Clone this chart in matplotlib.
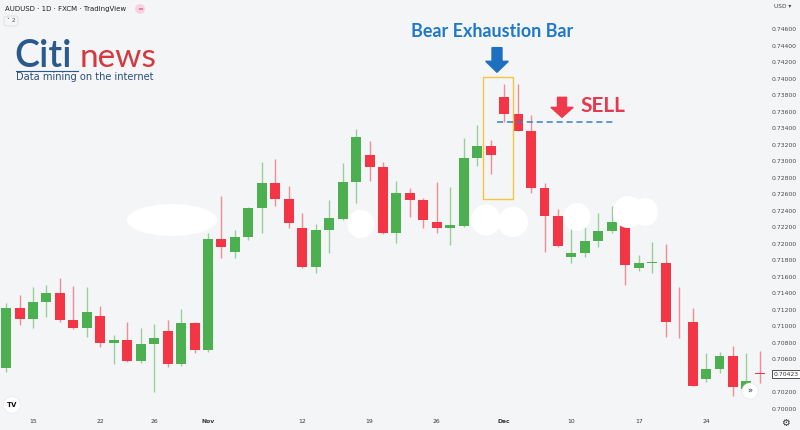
import matplotlib.pyplot as plt
from matplotlib.patches import Ellipse, FancyArrow, Rectangle, FancyBboxPatch

# AUDUSD daily, FXCM, 11 Oct 2018 - 31 Dec 2018
dates = ["Oct 11", "Oct 12", "Oct 15", "Oct 16", "Oct 17", "Oct 18", "Oct 19",
         "Oct 22", "Oct 23", "Oct 24", "Oct 25", "Oct 26", "Oct 29", "Oct 30", "Oct 31",
         "Nov 1", "Nov 2", "Nov 5", "Nov 6", "Nov 7", "Nov 8", "Nov 9",
         "Nov 12", "Nov 13", "Nov 14", "Nov 15", "Nov 16", "Nov 19", "Nov 20", "Nov 21",
         "Nov 22", "Nov 23", "Nov 26", "Nov 27", "Nov 28", "Nov 29", "Nov 30",
         "Dec 3", "Dec 4", "Dec 5", "Dec 6", "Dec 7", "Dec 10", "Dec 11", "Dec 12",
         "Dec 13", "Dec 14", "Dec 17", "Dec 18", "Dec 19", "Dec 20", "Dec 21",
         "Dec 24", "Dec 26", "Dec 27", "Dec 28", "Dec 31"]

opens = [0.70499, 0.71218, 0.71085, 0.71298, 0.71400, 0.71077, 0.70976,
         0.71125, 0.70802, 0.70835, 0.70580, 0.70783, 0.70944, 0.70544, 0.71044,
         0.70714, 0.72054, 0.71900, 0.72085, 0.72429, 0.72732, 0.72538,
         0.72187, 0.71715, 0.72166, 0.72300, 0.72744, 0.73074, 0.72926, 0.72134,
         0.72618, 0.72530, 0.72260, 0.72187, 0.72215, 0.73035, 0.73183,
         0.73780, 0.73571, 0.73369, 0.72671, 0.72336, 0.71843, 0.71892, 0.72033,
         0.72158, 0.72260, 0.71703, 0.71771, 0.71771, 0.71056, 0.71049,
         0.70362, 0.70484, 0.70641, 0.70247, 0.70430]
highs = [0.71283, 0.71379, 0.71473, 0.71501, 0.71582, 0.71488, 0.71480,
         0.71246, 0.70895, 0.71053, 0.70976, 0.71025, 0.71077, 0.71206, 0.71056,
         0.72126, 0.72578, 0.72166, 0.72441, 0.72993, 0.73022, 0.72699,
         0.72369, 0.72239, 0.72530, 0.72981, 0.73386, 0.73248, 0.72993, 0.72760,
         0.72671, 0.72550, 0.72751, 0.72691, 0.73277, 0.73438, 0.73256,
         0.73934, 0.73934, 0.73559, 0.72732, 0.72417, 0.72206, 0.72215, 0.72376,
         0.72457, 0.72287, 0.71864, 0.72025, 0.71997, 0.71473, 0.71218,
         0.70674, 0.70693, 0.70762, 0.70681, 0.70705]
lows = [0.70451, 0.71016, 0.70976, 0.71117, 0.71056, 0.70964, 0.70875,
        0.70753, 0.70544, 0.70572, 0.70553, 0.70209, 0.70504, 0.70520, 0.70674,
        0.70689, 0.71824, 0.71824, 0.72045, 0.72126, 0.72457, 0.72187,
        0.71706, 0.71642, 0.71884, 0.72287, 0.72497, 0.72763, 0.72118, 0.72013,
        0.72327, 0.72187, 0.72126, 0.71985, 0.72205, 0.72941, 0.72844,
        0.73478, 0.73359, 0.72611, 0.71904, 0.71961, 0.71771, 0.71843, 0.71964,
        0.72126, 0.71501, 0.71674, 0.71649, 0.70867, 0.70855, 0.70272,
        0.70323, 0.70432, 0.70157, 0.70229, 0.70318]
closes = [0.71218, 0.71085, 0.71298, 0.71400, 0.71077, 0.70976, 0.71170,
          0.70802, 0.70835, 0.70580, 0.70783, 0.70855, 0.70544, 0.71044, 0.70714,
          0.72054, 0.71964, 0.72085, 0.72429, 0.72732, 0.72538, 0.72248,
          0.71715, 0.72166, 0.72315, 0.72744, 0.73296, 0.72926, 0.72126, 0.72618,
          0.72530, 0.72287, 0.72187, 0.72223, 0.73035, 0.73183, 0.73074,
          0.73571, 0.73369, 0.72671, 0.72336, 0.71973, 0.71892, 0.72033, 0.72158,
          0.72260, 0.71743, 0.71771, 0.71779, 0.71056, 0.71049, 0.70281,
          0.70484, 0.70641, 0.70262, 0.70338, 0.70423]

tick_dates = ["Oct 15", "Oct 22", "Oct 26", "Nov 1", "Nov 12", "Nov 19",
              "Nov 26", "Dec 3", "Dec 10", "Dec 17", "Dec 24"]
tick_labels = ["15", "22", "26", "Nov", "12", "19", "26", "Dec", "10", "17", "24"]

price_ticks = [0.700, 0.702, 0.706, 0.708, 0.710, 0.712, 0.714, 0.716, 0.718,
               0.720, 0.722, 0.724, 0.726, 0.728, 0.730, 0.732, 0.734, 0.736,
               0.738, 0.740, 0.742, 0.744, 0.746]
last_price = 0.70423

signal_date = "Dec 3"      # bear exhaustion bar
sell_level = 0.73478       # low of the exhaustion bar

bg = "#f4f5f7"
green = "#4caf50"
red = "#f23645"

W, H = 800, 430
fx = lambda x: x / W
fy = lambda y: 1 - y / H

fig = plt.figure(figsize=(8, 4.3), dpi=100, facecolor=bg)
ax = fig.add_axes([0, 18 / H, 765 / W, 412 / H])
ax.set_facecolor(bg)

xs = list(range(len(dates)))
cols = [green if c >= o else red for o, c in zip(opens, closes)]
bottoms = [min(o, c) for o, c in zip(opens, closes)]
heights = [max(abs(c - o), 0.00009) for o, c in zip(opens, closes)]

ax.vlines(xs, lows, highs, colors=cols, linewidth=1, alpha=0.55, zorder=2)
ax.bar(xs, heights, bottom=bottoms, width=0.74, color=cols, linewidth=0, zorder=3)

ax.set_xlim(-0.452, 56.38)
ax.set_ylim(0.69963, 0.74951)
for s in ax.spines.values():
    s.set_visible(False)

ax.yaxis.tick_right()
ax.set_yticks(price_ticks)
ax.set_yticklabels([f"{t:.5f}" for t in price_ticks])
ax.tick_params(axis="y", length=0, pad=4.5, labelsize=4.4, labelcolor="#4a4a4a")

ax.set_xticks([dates.index(d) for d in tick_dates])
ax.set_xticklabels(tick_labels)
ax.tick_params(axis="x", length=0, pad=5, labelsize=4.4, labelcolor="#3a3a3a")
for lbl in ax.get_xticklabels():
    if lbl.get_text() in ("Nov", "Dec"):
        lbl.set_fontweight("bold")

# last price tag
ax.annotate(f"{last_price:.5f}", xy=(1, last_price), xycoords=("axes fraction", "data"),
            xytext=(6, 0), textcoords="offset points", ha="left", va="center",
            fontsize=4.4, color="#333333",
            bbox=dict(boxstyle="square,pad=0.25", fc="white", ec="#333333", lw=0.6))

# annotations
sx = dates.index(signal_date)
ax.add_patch(Rectangle((sx - 1.6, 0.72538), 2.23, 0.74022 - 0.72538, fill=False,
                       ec="#f5c443", lw=1, zorder=4))
ax.add_patch(FancyArrow(sx - 0.53, 0.74374, 0, -0.00298 + 0.00133, width=0.74,
                        head_width=1.68, head_length=0.00133,
                        length_includes_head=False, color="#1f6fc0", zorder=5))
ax.text(sx - 0.92, 0.74567, "Bear Exhaustion Bar", ha="center", va="center",
        fontsize=12.9, fontweight="bold", family="Lato", color="#1f78c8")

ax.hlines(sell_level, sx - 0.5, sx + 8.24, colors="#3a7fc1", linestyles=(0, (4, 2.5)),
          lw=1.1, zorder=4)
ax.add_patch(FancyArrow(sx + 4.3, 0.73773, 0, -0.00242 + 0.0012, width=0.67,
                        head_width=1.65, head_length=0.0012,
                        length_includes_head=False, color="#ee3a4c", zorder=5))
ax.text(sx + 5.69, 0.73671, "SELL", ha="left", va="center", fontsize=15,
        fontweight="bold", family="Lato", color="#e8384f")

# white blobs covering the watermark
blobs = [(172, 220, 90, 32), (361, 224, 27, 28), (486, 220, 30, 31), (513, 222, 30, 30),
         (577, 217, 27, 28), (628, 212, 30, 32), (645, 212, 26, 28)]
for bx, by, bw, bh in blobs:
    fig.patches.append(Ellipse((fx(bx), fy(by)), bw / W, bh / H, fc="white", ec="none",
                               transform=fig.transFigure, zorder=6))

# header
fig.text(fx(5), fy(9), "AUDUSD · 1D · FXCM · TradingView", fontsize=5.0,
         color="#222222", va="center", ha="left", fontweight="medium")
fig.patches.append(Ellipse((fx(140), fy(9)), 10 / W, 10 / H, fc="#f8d3df", ec="none",
                           transform=fig.transFigure))
fig.text(fx(140), fy(9), "=", fontsize=5, color="#e04a7a", ha="center", va="center")
fig.patches.append(FancyBboxPatch((fx(4), fy(26)), 14 / W, 10 / H,
                                  boxstyle="round,pad=0,rounding_size=0.004",
                                  fc="none", ec="#d8d8d8", lw=0.5, transform=fig.transFigure))
fig.text(fx(11), fy(21), "˅ 2", fontsize=4.2, color="#555555", ha="center", va="center")

# logo
fig.text(fx(14), fy(67), "Citi", fontsize=27, color="#2a5a8c", family="Lato",
         fontweight="semibold", va="baseline", ha="left")
fig.text(fx(80), fy(67), "news", fontsize=24, color="#d23a3e", family="Lato",
         va="baseline", ha="left")
fig.lines.append(plt.Line2D([fx(16), fx(78)], [fy(70.5), fy(70.5)], color="#2a5a8c",
                            lw=0.8, transform=fig.transFigure))
fig.text(fx(16), fy(77.5), "Data mining on the internet", fontsize=7.1, color="#2b4f78",
         va="center", ha="left")

# right scale header and buttons
fig.text(fx(774), fy(7), "USD ▾", fontsize=4.2, color="#444444", va="center", ha="left")
fig.text(fx(785), fy(423), "⚙", fontsize=7, color="#333333", va="center", ha="center")
fig.patches.append(Ellipse((fx(12), fy(405)), 17 / W, 17 / H, fc="white", ec="#e6e6e6",
                           lw=0.4, transform=fig.transFigure, zorder=7))
fig.text(fx(12), fy(405), "TV", fontsize=5, color="#111111", fontweight="bold",
         ha="center", va="center", zorder=8)
fig.patches.append(Ellipse((fx(750), fy(391)), 16 / W, 16 / H, fc="white", ec="#e6e6e6",
                           lw=0.4, transform=fig.transFigure, zorder=7))
fig.text(fx(750), fy(391), "»", fontsize=6, color="#333333", ha="center", va="center",
         zorder=8)

fig.savefig("out.png", dpi=100, facecolor=bg)
